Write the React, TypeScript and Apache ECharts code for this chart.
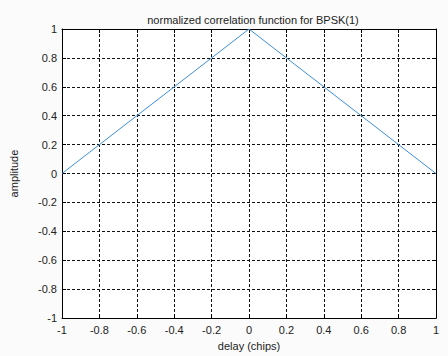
import React, { useEffect, useRef } from "react";
import * as echarts from "echarts";

const delays = [-1, 0, 1];
const amplitudes = [0, 1, 0];
const xTicks = [-1, -0.8, -0.6, -0.4, -0.2, 0, 0.2, 0.4, 0.6, 0.8, 1];
const yTicks = [-1, -0.8, -0.6, -0.4, -0.2, 0, 0.2, 0.4, 0.6, 0.8, 1];

const fmt = (v: number) => {
  const r = Math.round(v * 10) / 10;
  return String(r);
};

export default function App() {
  const ref = useRef<HTMLDivElement>(null);
  useEffect(() => {
    if (!ref.current) return;
    const chart = echarts.init(ref.current, null, { renderer: "svg" });
    const font = "Liberation Sans";
    const axisLine = { show: true, onZero: false, lineStyle: { color: "#000", width: 1 } };
    const tick = { show: true, inside: true, length: 4, lineStyle: { color: "#000" } };
    const split = { show: true, lineStyle: { color: "#111", type: [3, 2] as any, width: 1 } };
    chart.setOption({
      animation: false,
      backgroundColor: "#fbfbfb",
      title: {
        text: "normalized correlation function for BPSK(1)",
        left: 248,
        top: 9,
        textAlign: "center",
        textStyle: { fontFamily: font, fontSize: 11, fontWeight: "normal", color: "#222" },
      },
      grid: { left: 60, top: 29, width: 376, height: 295, backgroundColor: "#fff", show: true, borderWidth: 0 },
      xAxis: [
        {
          type: "value",
          min: xTicks[0],
          max: xTicks[xTicks.length - 1],
          interval: 0.2,
          name: "delay (chips)",
          nameLocation: "middle",
          nameGap: 21,
          nameTextStyle: { fontFamily: font, fontSize: 11, color: "#222" },
          axisLine,
          axisTick: tick,
          splitLine: split,
          axisLabel: { fontFamily: font, fontSize: 11, color: "#222", margin: 6, formatter: fmt },
        },
        {
          type: "value",
          position: "top",
          min: -1,
          max: 1,
          interval: 0.2,
          axisLine,
          axisTick: tick,
          splitLine: { show: false },
          axisLabel: { show: false },
        },
      ],
      yAxis: [
        {
          type: "value",
          min: yTicks[0],
          max: yTicks[yTicks.length - 1],
          interval: 0.2,
          name: "amplitude",
          nameLocation: "middle",
          nameGap: 43,
          nameTextStyle: { fontFamily: font, fontSize: 11, color: "#222" },
          axisLine,
          axisTick: tick,
          splitLine: split,
          axisLabel: { fontFamily: font, fontSize: 11, color: "#222", margin: 5, formatter: fmt },
        },
        {
          type: "value",
          position: "right",
          min: -1,
          max: 1,
          interval: 0.2,
          axisLine,
          axisTick: tick,
          splitLine: { show: false },
          axisLabel: { show: false },
        },
      ],
      series: [
        {
          type: "line",
          data: delays.map((d, i) => [d, amplitudes[i]]),
          showSymbol: false,
          symbol: "none",
          lineStyle: { color: "#3d8fdc", width: 1 },
        },
      ],
    });
    return () => chart.dispose();
  }, []);
  return <div ref={ref} style={{ position: "fixed", left: 0, top: 0, width: 448, height: 356 }} />;
}
